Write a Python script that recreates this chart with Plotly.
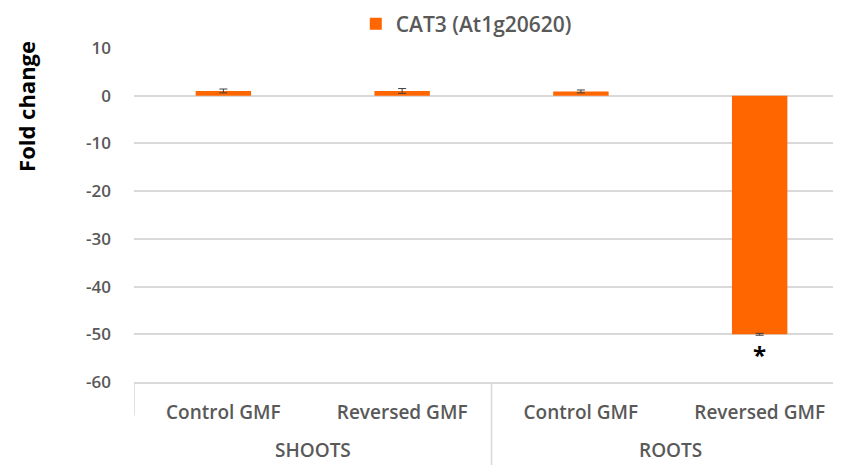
import plotly.graph_objects as go

# data
tissues = ["SHOOTS", "SHOOTS", "ROOTS", "ROOTS"]
treatments = ["Control GMF", "Reversed GMF", "Control GMF", "Reversed GMF"]
fold_change = [1.0, 1.0, 0.9, -50.0]
fold_err = [0.4, 0.5, 0.3, 0.2]
signif = ["", "", "", "*"]
y_ticks = [10, 0, -10, -20, -30, -40, -50, -60]

ORANGE = "#ff6600"
GREY_TXT = "#595959"
GRID = "#d9d9d9"
FONT = "Open Sans"

keys = [t + "|" + c for t, c in zip(tissues, treatments)]

fig = go.Figure()
fig.add_trace(go.Bar(
    x=keys, y=fold_change,
    name="CAT3 (At1g20620)",
    marker=dict(color=ORANGE, line=dict(width=0)),
    width=0.31,
    error_y=dict(type="data", array=fold_err, color="#404040", thickness=1, width=4),
))

# significance stars under the bars
for k, v, s in zip(keys, fold_change, signif):
    if s:
        fig.add_annotation(x=k, y=v, text="<b>" + s + "</b>", showarrow=False,
                           yanchor="middle", yshift=-20,
                           font=dict(family=FONT, size=24, color="black"))

# outer group labels + dividers (multi-level category axis look)
groups = []
for t in tissues:
    if t not in groups:
        groups.append(t)
for g in groups:
    idx = [i for i, t in enumerate(tissues) if t == g]
    fig.add_annotation(x=sum(idx) / len(idx), xref="x", y=-0.205, yref="paper",
                       text=g, showarrow=False, yanchor="middle",
                       font=dict(family=FONT, size=19, color=GREY_TXT, weight=600))
    if idx[0] > 0:
        fig.add_shape(type="line", xref="x", yref="paper", x0=idx[0] - 0.5, x1=idx[0] - 0.5,
                      y0=0, y1=-0.26, line=dict(color=GRID, width=1.5))
fig.add_shape(type="line", xref="x", yref="paper", x0=-0.5, x1=-0.5,
              y0=0, y1=-0.1, line=dict(color=GRID, width=1.5))

# y title sits high on the left, like the original
fig.add_annotation(text="<b>Fold change</b>", textangle=-90, showarrow=False,
                   xref="paper", x=-0.153, xanchor="center",
                   yref="paper", y=0.826, yanchor="middle",
                   font=dict(family=FONT, size=22, color="black"))

# the page adds an 8px body margin, so the figure is 8px smaller than the window
fig.update_layout(
    width=833, height=457,
    margin=dict(l=126, r=0, t=40, b=83),
    paper_bgcolor="white", plot_bgcolor="white",
    font=dict(family=FONT, size=17, color=GREY_TXT),
    showlegend=True,
    legend=dict(orientation="h", x=0.47, xanchor="center", y=0.965, yanchor="middle",
                yref="container", font=dict(family=FONT, size=21, color=GREY_TXT, weight=600)),
)

fig.update_yaxes(
    range=[-60, 10], tickvals=y_ticks, ticktext=[str(v) for v in y_ticks],
    showgrid=True, gridcolor=GRID, gridwidth=1.5,
    zeroline=True, zerolinecolor=GRID, zerolinewidth=1.5,
    showline=False, ticks="", ticklabelstandoff=22, automargin=False,
    tickfont=dict(family=FONT, size=17, color=GREY_TXT, weight=600),
)
fig.update_xaxes(
    type="category", range=[-0.5, 3.455], automargin=False,
    tickvals=keys, ticktext=treatments,
    showline=True, linecolor=GRID, linewidth=1.5,
    ticks="", ticklabelstandoff=12,
    tickfont=dict(family=FONT, size=19, color=GREY_TXT, weight=600),
)

fig.write_html("out.html")
